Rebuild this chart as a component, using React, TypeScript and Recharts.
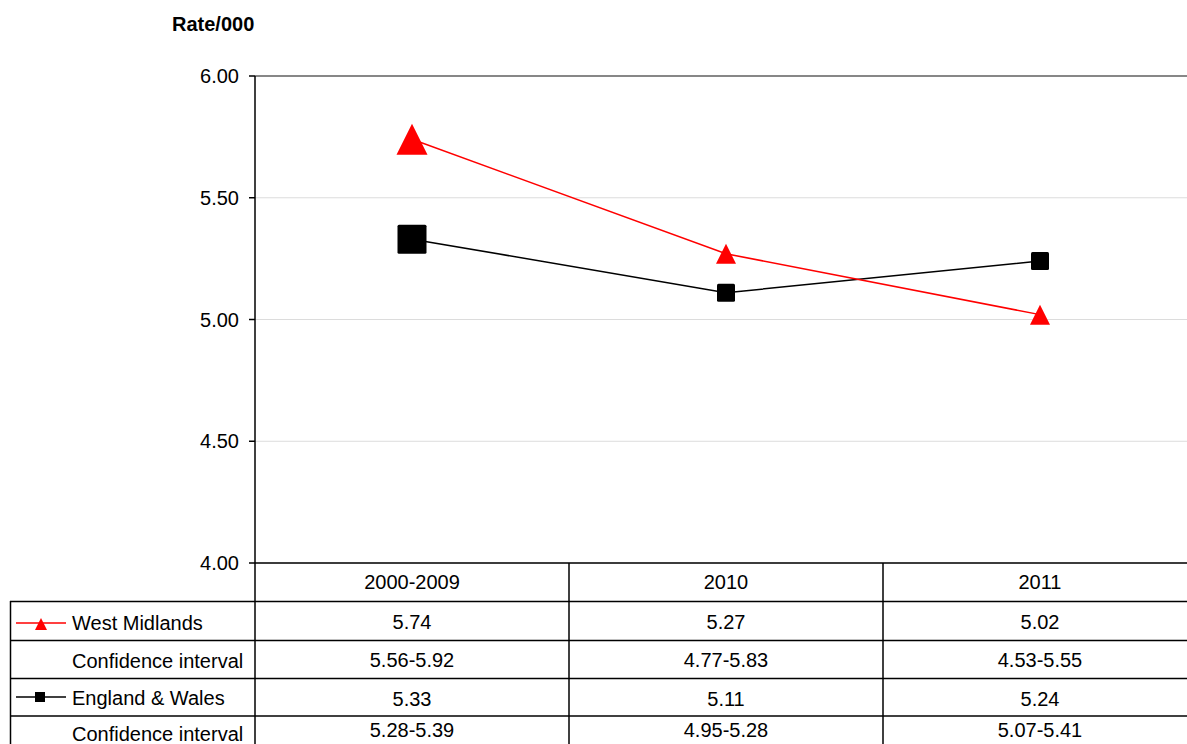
import React from 'react'
import { LineChart, Line, XAxis, YAxis, CartesianGrid, ReferenceLine } from 'recharts'

const categories = ['2000-2009', '2010', '2011']
const westMidlands = [5.74, 5.27, 5.02]
const westMidlandsCI = ['5.56-5.92', '4.77-5.83', '4.53-5.55']
const englandWales = [5.33, 5.11, 5.24]
const englandWalesCI = ['5.28-5.39', '4.95-5.28', '5.07-5.41']
const yTicks = [4, 4.5, 5, 5.5, 6]
const rowLabels = ['West Midlands', 'Confidence interval', 'England & Wales', 'Confidence interval']

const data = categories.map((c, i) => ({
  category: c,
  westMidlands: westMidlands[i],
  englandWales: englandWales[i],
}))

const FONT = '"Liberation Sans", Arial, sans-serif'
const FS = 20
const AXIS_Y = 563
const HALF = 157
const ROW_Y = [581.5, 622, 660, 698.5, 730]

function TableTick(props: any) {
  const { x, payload } = props
  const i = categories.indexOf(payload.value)
  const cells = [
    categories[i],
    westMidlands[i].toFixed(2),
    westMidlandsCI[i],
    englandWales[i].toFixed(2),
    englandWalesCI[i],
  ]
  return (
    <g>
      <line x1={x + HALF} y1={AXIS_Y} x2={x + HALF} y2={744} stroke="#000" strokeWidth={1.5} />
      {cells.map((t, r) => (
        <text
          key={r}
          x={x}
          y={ROW_Y[r]}
          textAnchor="middle"
          dominantBaseline="central"
          fontFamily={FONT}
          fontSize={FS}
          fill="#000"
        >
          {t}
        </text>
      ))}
    </g>
  )
}

function triangle(cx: number, cy: number, s: number, color: string, key?: any) {
  const h = s / 2
  return (
    <polygon
      key={key}
      points={`${cx},${cy - h} ${cx + h},${cy + h} ${cx - h},${cy + h}`}
      fill={color}
    />
  )
}

const TriangleDot = (props: any) => {
  const { cx, cy, index } = props
  return triangle(cx, cy, index === 0 ? 31 : 20, '#ff0000', `t${index}`)
}

const SquareDot = (props: any) => {
  const { cx, cy, index } = props
  const s = index === 0 ? 29 : 18
  return <rect key={`s${index}`} x={cx - s / 2} y={cy - s / 2} width={s} height={s} rx={1.5} fill="#000" />
}

export default function App() {
  return (
    <div
      style={{
        position: 'absolute',
        left: 0,
        top: 0,
        width: 1187,
        height: 744,
        overflow: 'hidden',
        background: '#fff',
      }}
    >
      <LineChart width={1197} height={744} data={data} margin={{ top: 76, right: 0, bottom: 0, left: 0 }}>
        <CartesianGrid vertical={false} stroke="#dcdcdc" />
        <XAxis
          dataKey="category"
          padding={{ left: HALF, right: HALF }}
          axisLine={{ stroke: '#000', strokeWidth: 1.5 }}
          tickLine={false}
          height={181}
          interval={0}
          tick={<TableTick />}
        />
        <YAxis
          width={255}
          domain={[4, 6]}
          ticks={yTicks}
          tickFormatter={(v) => Number(v).toFixed(2)}
          axisLine={{ stroke: '#000', strokeWidth: 1.5 }}
          tickLine={{ stroke: '#000', strokeWidth: 1.5 }}
          tickSize={6}
          tickMargin={10}
          tick={{ fontFamily: FONT, fontSize: FS, fill: '#000' }}
        />
        <ReferenceLine y={6} stroke="#878787" strokeWidth={2} />
        <Line
          type="linear"
          dataKey="englandWales"
          stroke="#000"
          strokeWidth={1.5}
          dot={SquareDot}
          activeDot={false}
          isAnimationActive={false}
        />
        <Line
          type="linear"
          dataKey="westMidlands"
          stroke="#ff0000"
          strokeWidth={1.5}
          dot={TriangleDot}
          activeDot={false}
          isAnimationActive={false}
        />
      </LineChart>
      <svg
        width={1187}
        height={744}
        style={{ position: 'absolute', left: 0, top: 0, pointerEvents: 'none' }}
      >
        <text x={172} y={24} dominantBaseline="central" fontFamily={FONT} fontSize={20} fontWeight="bold" fill="#000">
          Rate/000
        </text>
        {[601.5, 640.5, 678.5, 716].map((y) => (
          <line key={y} x1={10} y1={y} x2={1187} y2={y} stroke="#000" strokeWidth={1.5} />
        ))}
        <line x1={10.5} y1={601} x2={10.5} y2={744} stroke="#000" strokeWidth={1.5} />
        <line x1={255} y1={563} x2={255} y2={744} stroke="#000" strokeWidth={1.5} />
        <line x1={16} y1={623} x2={66} y2={623} stroke="#ff0000" strokeWidth={1.5} />
        {triangle(41, 624, 12, '#ff0000')}
        <line x1={16} y1={697} x2={66} y2={697} stroke="#000" strokeWidth={1.5} />
        <rect x={35} y={692} width={10} height={10} fill="#000" />
        {rowLabels.map((t, r) => (
          <text
            key={r}
            x={72}
            y={[623, 661, 698, 734][r]}
            dominantBaseline="central"
            fontFamily={FONT}
            fontSize={FS}
            fill="#000"
          >
            {t}
          </text>
        ))}
      </svg>
    </div>
  )
}
